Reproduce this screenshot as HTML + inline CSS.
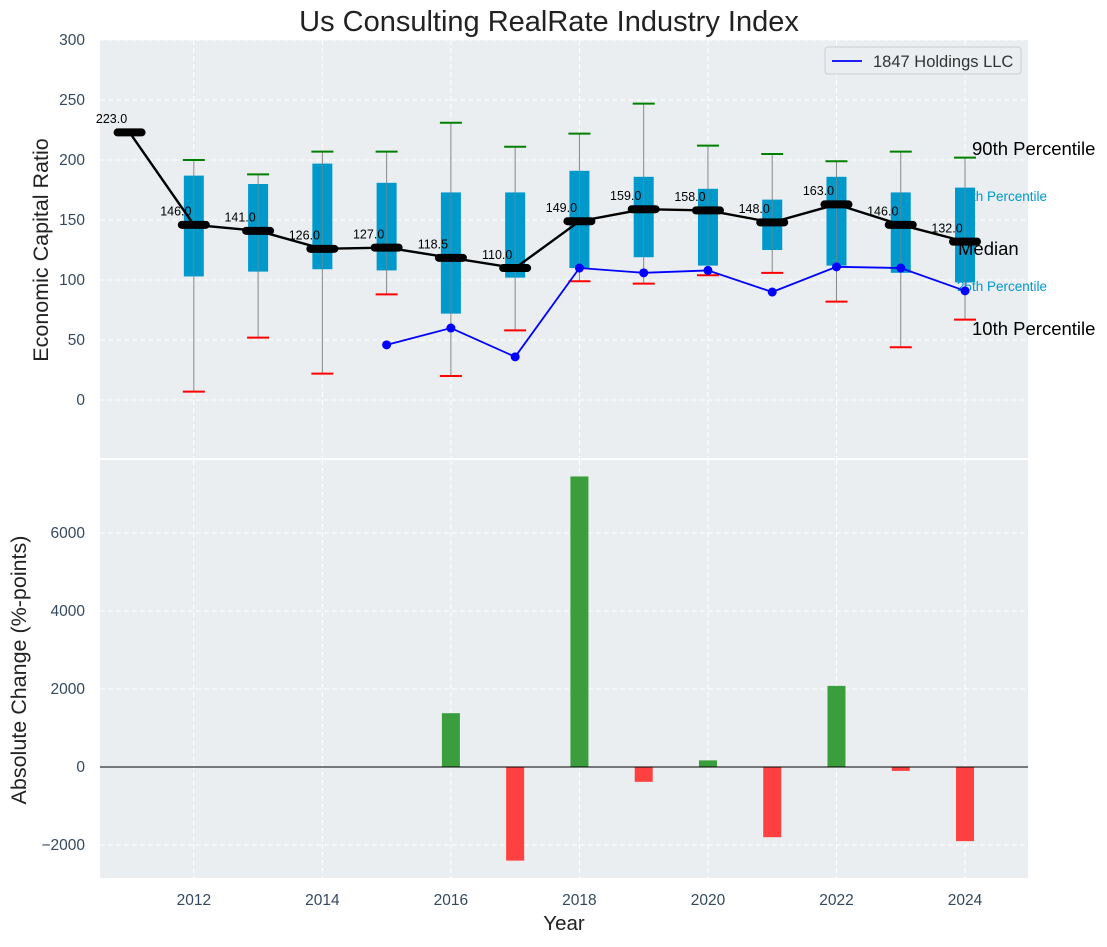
<!DOCTYPE html>
<html><head><meta charset="utf-8"><style>
body{margin:0;background:#fff}
svg text{font-family:"Liberation Sans","DejaVu Sans",sans-serif}
</style></head><body>
<svg id="c" width="1107" height="942" xmlns="http://www.w3.org/2000/svg"></svg>
<script>
const years=[2011,2012,2013,2014,2015,2016,2017,2018,2019,2020,2021,2022,2023,2024];
const medians=[223,146,141,126,127,118.5,110,149,159,158,148,163,146,132];
const q1=[null,103,107,109,108,72,102,110,119,112,125,112,106,98];
const q3=[null,187,180,197,181,173,173,191,186,176,167,186,173,177];
const p10=[null,7,52,22,88,20,58,99,97,104,106,82,44,67];
const p90=[null,200,188,207,207,231,211,222,247,212,205,199,207,202];
const lineYears=[2015,2016,2017,2018,2019,2020,2021,2022,2023,2024];
const lineVals=[46,60,36,110,106,108,90,111,110,91];
const barYears=[2016,2017,2018,2019,2020,2021,2022,2023,2024];
const barVals=[1380,-2400,7450,-380,170,-1800,2080,-100,-1900];
const topTicks=[0,50,100,150,200,250,300];
const botTicks=[-2000,0,2000,4000,6000];
const xTicks=[2012,2014,2016,2018,2020,2022,2024];

const svg=document.getElementById('c');const NS='http://www.w3.org/2000/svg';
function el(t,a,txt,p){const e=document.createElementNS(NS,t);for(const k in a)e.setAttribute(k,a[k]);if(txt!=null)e.textContent=txt;(p||svg).appendChild(e);return e;}
const L=100,R=1028,T1=40,B1=458,T2=460,B2=878;
const X=v=>L+(v-2010.54)*(R-L)/(2024.98-2010.54);
const Y1=v=>T1+(300-v)*(B1-T1)/(300+48.3);
const Y2=v=>T2+(7872-v)*(B2-T2)/(7872+2846);

let r=el('rect',{x:L,y:T1,width:R-L,height:B1-T1,fill:'#eaeef0'});

r=el('rect',{x:L,y:T2,width:R-L,height:B2-T2,fill:'#eaeef0'});

xTicks.forEach(t=>{[[T1,B1],[T2,B2]].forEach(([a,b])=>el('line',{x1:X(t),x2:X(t),y1:a,y2:b,stroke:'#fff','stroke-dasharray':'5,3','stroke-width':1}));
 const tx=el('text',{x:X(t),y:905,'text-anchor':'middle','font-size':15.5,fill:'#34495e'},t);
 });
topTicks.forEach(t=>{el('line',{x1:L,x2:R,y1:Y1(t),y2:Y1(t),stroke:'#fff','stroke-dasharray':'5,3'});
 const tx=el('text',{x:85,y:Y1(t)+5,'text-anchor':'end','font-size':15.5,fill:'#34495e'},t);
 });
botTicks.forEach(t=>{el('line',{x1:L,x2:R,y1:Y2(t),y2:Y2(t),stroke:'#fff','stroke-dasharray':'5,3'});
 const tx=el('text',{x:85,y:Y2(t)+5,'text-anchor':'end','font-size':15.5,fill:'#34495e'},t<0?'−'+(-t):t);
 });
// blue percentile labels under boxes
[['75th Percentile',q3[13]-7],['25th Percentile',q1[13]-3]].forEach(d=>{
 const tx=el('text',{x:957,y:Y1(d[1])+5,'font-size':13.5,fill:'#0099cc'},d[0]);
 });
years.forEach((y,i)=>{if(q1[i]==null)return;const g=el('g',{});
 
 el('line',{x1:X(y),x2:X(y),y1:Y1(p10[i]),y2:Y1(p90[i]),stroke:'#888','stroke-width':1},null,g);
 el('rect',{x:X(y)-10,y:Y1(q3[i]),width:20,height:Y1(q1[i])-Y1(q3[i]),fill:'#0099cc'},null,g);
 el('line',{x1:X(y),x2:X(y),y1:Y1(q1[i]),y2:Y1(q3[i]),stroke:'#888','stroke-width':1,opacity:.6},null,g);
 el('line',{x1:X(y)-11,x2:X(y)+11,y1:Y1(p90[i]),y2:Y1(p90[i]),stroke:'green','stroke-width':2},null,g);
 el('line',{x1:X(y)-11,x2:X(y)+11,y1:Y1(p10[i]),y2:Y1(p10[i]),stroke:'red','stroke-width':2},null,g);});
// black labels over boxes
const lx=X(2024)+7;
[['90th Percentile',p90[13]+7,lx],['Median',medians[13]-6,X(2024)-7],['10th Percentile',p10[13]-8,lx]].forEach(d=>{
 const tx=el('text',{x:d[2],y:Y1(d[1])+6,'font-size':18.5,fill:'#000'},d[0]);
 });
let pl=el('polyline',{points:years.map((y,i)=>X(y)+','+Y1(medians[i])).join(' '),fill:'none',stroke:'#000','stroke-width':2.4});

years.forEach((y,i)=>{let m=el('line',{x1:X(y)-12,x2:X(y)+12,y1:Y1(medians[i]),y2:Y1(medians[i]),stroke:'#000','stroke-width':8,'stroke-linecap':'round'});
 
 let t=el('text',{x:X(y)-18,y:Y1(medians[i]+11)+4,'font-size':12.5,'text-anchor':'middle',fill:'#000'},medians[i].toFixed(1));
 });
pl=el('polyline',{points:lineYears.map((y,i)=>X(y)+','+Y1(lineVals[i])).join(' '),fill:'none',stroke:'#0000ff','stroke-width':1.8});

lineYears.forEach((y,i)=>{const c=el('circle',{cx:X(y),cy:Y1(lineVals[i]),r:4.5,fill:'#0000ff'});
 });
const lg=el('g',{});
el('rect',{x:825,y:47,width:196,height:27,rx:3,fill:'#eaeef0',stroke:'#ccc'},null,lg);
el('line',{x1:832,x2:862,y1:61,y2:61,stroke:'#0000ff','stroke-width':1.8},null,lg);
el('text',{x:873,y:67,'font-size':16.5,fill:'#333'},'1847 Holdings LLC',lg);
barYears.forEach((y,i)=>{const v=barVals[i];const b=el('rect',{x:X(y)-9,y:Math.min(Y2(v),Y2(0)),width:18,height:Math.abs(Y2(v)-Y2(0)),fill:v>=0?'#3a9e3c':'#ff4040'});
 });
el('line',{x1:L,x2:R,y1:Y2(0),y2:Y2(0),stroke:'#000','stroke-width':1});
let t=el('text',{x:549,y:31,'text-anchor':'middle','font-size':29,fill:'#222'},'Us Consulting RealRate Industry Index');

t=el('text',{x:564,y:930,'text-anchor':'middle','font-size':20.5,fill:'#222'},'Year');

t=el('text',{x:0,y:0,'text-anchor':'middle','font-size':21.5,fill:'#222',transform:'translate(48,250) rotate(-90)'},'Economic Capital Ratio');

t=el('text',{x:0,y:0,'text-anchor':'middle','font-size':21.5,fill:'#222',transform:'translate(26,670) rotate(-90)'},'Absolute Change (%-points)');

</script>
</body></html>
